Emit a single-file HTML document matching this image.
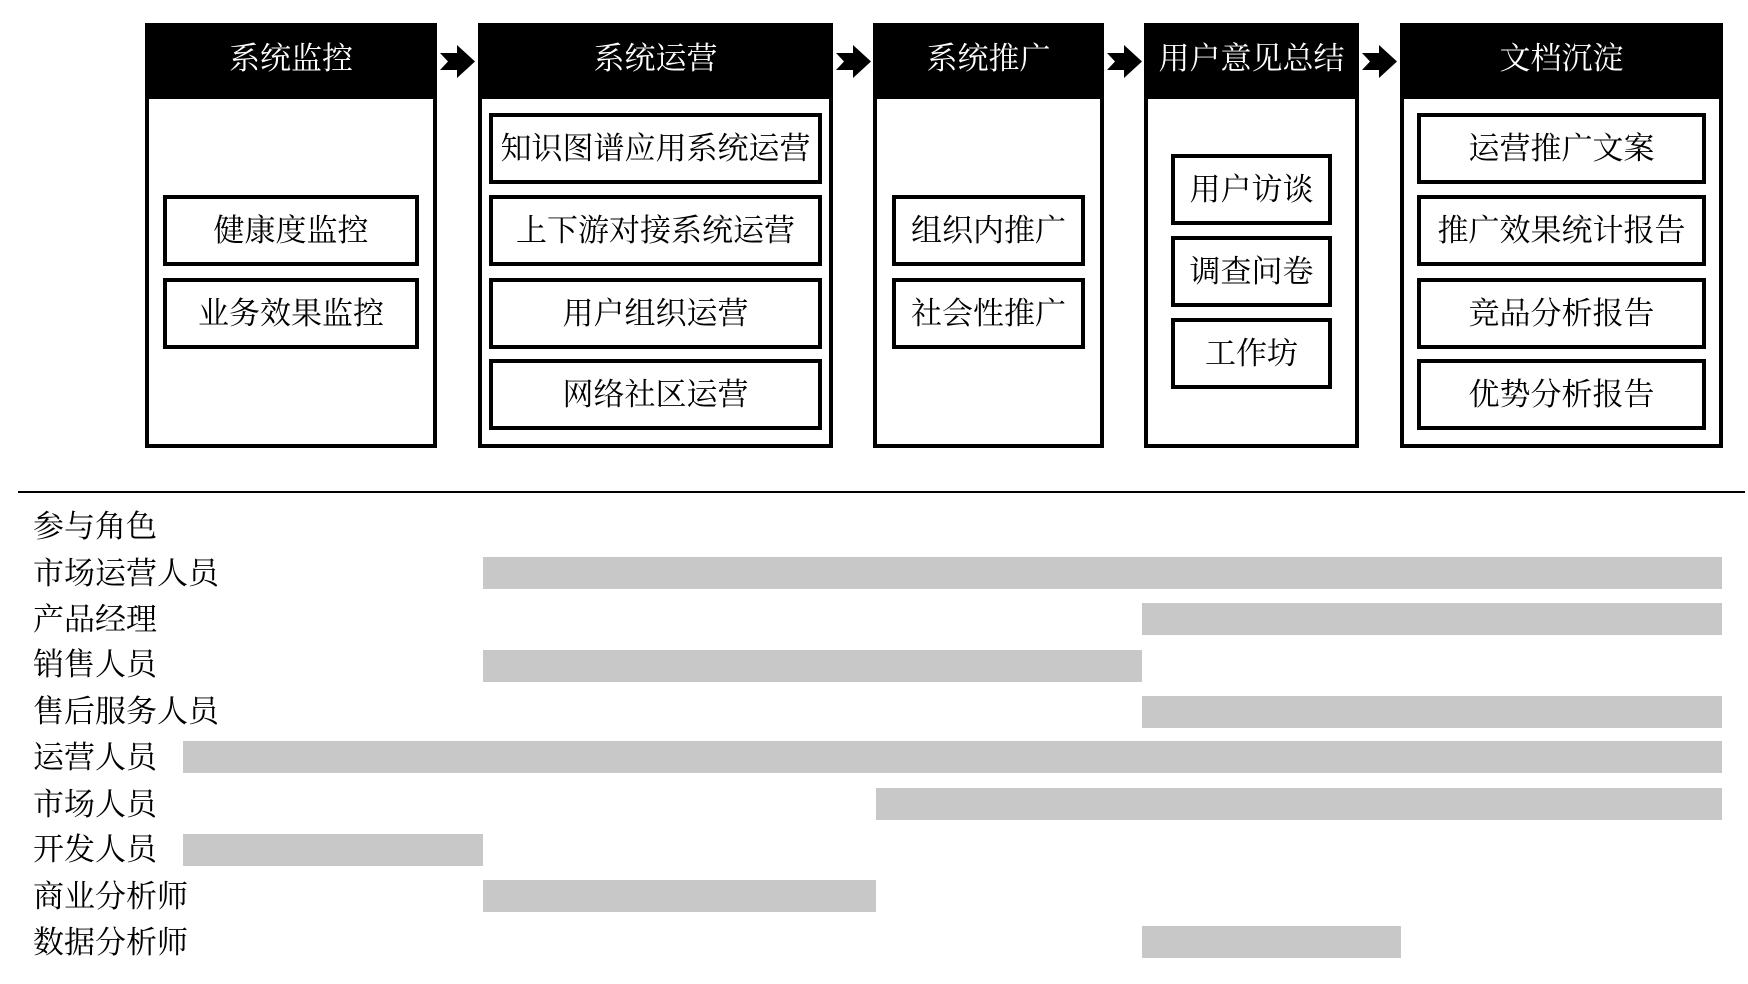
<!DOCTYPE html>
<html><head><meta charset="utf-8"><style>
*{margin:0;padding:0;box-sizing:border-box}
body{width:1748px;height:984px;background:#fff;position:relative;overflow:hidden;font-family:"Liberation Serif","Noto Serif CJK SC",serif;color:#000}
.col{position:absolute;top:23px;height:425px;border:4px solid #000;background:#fff}
.hd{position:absolute;left:-4px;right:-4px;top:-4px;height:76px;background:#000;color:#fff;font-size:31px;text-align:center;line-height:72px}
.ib{position:absolute;border:4px solid #000;background:#fff;font-size:31px;text-align:center;line-height:63px;white-space:nowrap;height:71px}
.ar{position:absolute;top:45px;width:35px;height:33px}
.lb{position:absolute;left:33px;font-size:31px;line-height:40px;white-space:nowrap}
.bar{position:absolute;height:32px;background:#c8c8c8}
</style></head><body>

<div class="col" style="left:145px;width:292px"><div class="hd">系统监控</div></div>
<div class="col" style="left:478px;width:355px"><div class="hd">系统运营</div></div>
<div class="col" style="left:873px;width:231px"><div class="hd">系统推广</div></div>
<div class="col" style="left:1144px;width:215px"><div class="hd">用户意见总结</div></div>
<div class="col" style="left:1400px;width:323px"><div class="hd">文档沉淀</div></div>

<svg class="ar" style="left:440px" viewBox="0 0 35 33"><polygon points="0,8 17,8 17,0 35,16.5 17,33 17,25 0,25 8,16.5" fill="#000"/></svg>
<svg class="ar" style="left:836px" viewBox="0 0 35 33"><polygon points="0,8 17,8 17,0 35,16.5 17,33 17,25 0,25 8,16.5" fill="#000"/></svg>
<svg class="ar" style="left:1107px" viewBox="0 0 35 33"><polygon points="0,8 17,8 17,0 35,16.5 17,33 17,25 0,25 8,16.5" fill="#000"/></svg>
<svg class="ar" style="left:1362px" viewBox="0 0 35 33"><polygon points="0,8 17,8 17,0 35,16.5 17,33 17,25 0,25 8,16.5" fill="#000"/></svg>

<div class="ib" style="left:163px;width:256px;top:195px">健康度监控</div>
<div class="ib" style="left:163px;width:256px;top:278px">业务效果监控</div>

<div class="ib" style="left:489px;width:333px;top:113px">知识图谱应用系统运营</div>
<div class="ib" style="left:489px;width:333px;top:195px">上下游对接系统运营</div>
<div class="ib" style="left:489px;width:333px;top:278px">用户组织运营</div>
<div class="ib" style="left:489px;width:333px;top:359px">网络社区运营</div>

<div class="ib" style="left:892px;width:193px;top:195px">组织内推广</div>
<div class="ib" style="left:892px;width:193px;top:278px">社会性推广</div>

<div class="ib" style="left:1171px;width:161px;top:154px">用户访谈</div>
<div class="ib" style="left:1171px;width:161px;top:236px">调查问卷</div>
<div class="ib" style="left:1171px;width:161px;top:318px">工作坊</div>

<div class="ib" style="left:1417px;width:289px;top:113px">运营推广文案</div>
<div class="ib" style="left:1417px;width:289px;top:195px">推广效果统计报告</div>
<div class="ib" style="left:1417px;width:289px;top:278px">竞品分析报告</div>
<div class="ib" style="left:1417px;width:289px;top:359px">优势分析报告</div>

<div style="position:absolute;left:18px;top:491px;width:1727px;height:2px;background:#000"></div>

<div class="lb" style="top:507px">参与角色</div>
<div class="lb" style="top:554px">市场运营人员</div>
<div class="lb" style="top:600px">产品经理</div>
<div class="lb" style="top:645px">销售人员</div>
<div class="lb" style="top:692px">售后服务人员</div>
<div class="lb" style="top:738px">运营人员</div>
<div class="lb" style="top:785px">市场人员</div>
<div class="lb" style="top:830px">开发人员</div>
<div class="lb" style="top:877px">商业分析师</div>
<div class="lb" style="top:923px">数据分析师</div>

<div class="bar" style="left:483px;width:1239px;top:557px"></div>
<div class="bar" style="left:1142px;width:580px;top:603px"></div>
<div class="bar" style="left:483px;width:659px;top:650px"></div>
<div class="bar" style="left:1142px;width:580px;top:696px"></div>
<div class="bar" style="left:183px;width:1539px;top:741px"></div>
<div class="bar" style="left:876px;width:846px;top:788px"></div>
<div class="bar" style="left:183px;width:300px;top:834px"></div>
<div class="bar" style="left:483px;width:393px;top:880px"></div>
<div class="bar" style="left:1142px;width:259px;top:926px"></div>

</body></html>
